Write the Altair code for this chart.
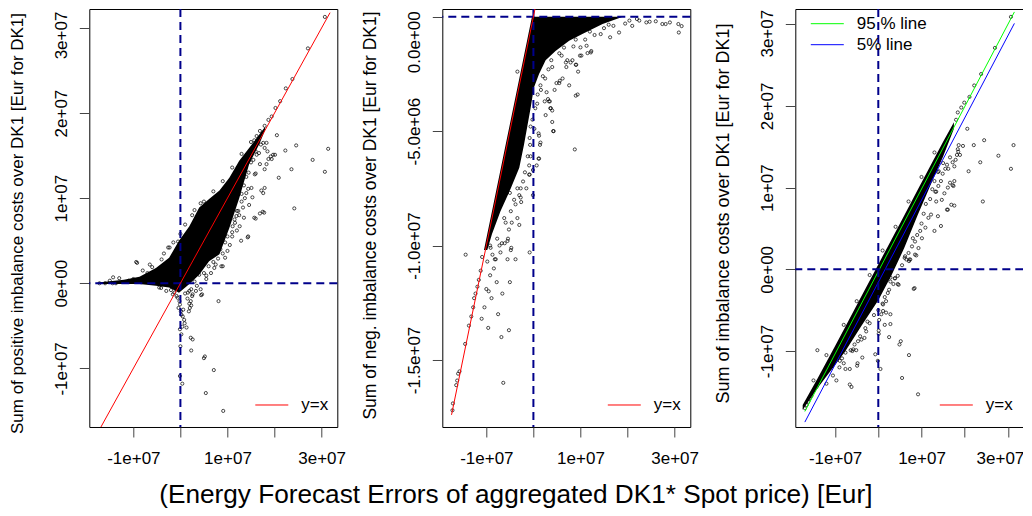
import altair as alt
import pandas as pd

FONT = "Liberation Sans"

# ---------------- axis ticks / labels ----------------
X_TICKS = [-1e7, 0, 1e7, 2e7, 3e7]
X_TICK_LABELS = ["-1e+07", "", "1e+07", "", "3e+07"]
Y13_TICKS = [-1e7, 0, 1e7, 2e7, 3e7]
Y13_TICK_LABELS = ["-1e+07", "0e+00", "1e+07", "2e+07", "3e+07"]
Y2_TICKS = [0, -5e6, -1e7, -1.5e7]
Y2_TICK_LABELS = ["0.0e+00", "-5.0e+06", "-1.0e+07", "-1.5e+07"]

X_DOMAIN_12 = [-1.936e7, 3.334e7]
X_DOMAIN_3 = [-1.921e7, 3.356e7]
Y_DOMAIN_1 = [-1.689e7, 3.223e7]
Y_DOMAIN_2 = [-1.793e7, 3.37e5]
Y_DOMAIN_3 = [-1.930e7, 3.186e7]

X_TITLE = "(Energy Forecast Errors of aggregated DK1* Spot price) [Eur]"
Y_TITLE_1 = "Sum of positive imbalance costs over DK1 [Eur for DK1]"
Y_TITLE_2 = "Sum of neg. imbalance costs over DK1 [Eur for DK1]"
Y_TITLE_3 = "Sum of imbalance costs over DK1 [Eur for DK1]"

# ---------------- reference lines ----------------
ZERO = [0]
YX_X = [-1.74e7, 3.18e7]
YX_Y = [-1.74e7, 3.18e7]
Q95_X = [-1.70e7, 3.15e7]
Q95_Y = [-1.74e7, 3.15e7]
Q05_X = [-1.70e7, 3.15e7]
Q05_Y = [-1.87e7, 3.01e7]

# ---------------- panel 1: dense core + points ----------------
P1_BAND_X = [-1.75e7, -1.2e7, -8.7e6, -5.2e6, -2.4e6, -3e5, 1.9e6, 4.0e6, 6.1e6, 8.3e6, 1.04e7, 1.25e7, 1.46e7, 1.68e7, 1.8e7]
P1_BAND_LO = [-1e5, -1e5, -1e5, -3e5, -5e5, -1.1e6, -1e5, 1.0e6, 2.6e6, 3.4e6, 6.5e6, 1.0e7, 1.40e7, 1.64e7, 1.8e7]
P1_BAND_HI = [1e5, 4e5, 7.7e5, 1.8e6, 3.0e6, 5.0e6, 6.7e6, 8.9e6, 9.9e6, 1.09e7, 1.24e7, 1.44e7, 1.59e7, 1.75e7, 1.84e7]
P1_POINTS = [
    (3.07e7, 3.13e7), (2.71e7, 2.76e7), (2.38e7, 2.40e7), (2.24e7, 2.29e7), (2.12e7, 2.14e7), (2.02e7, 2.06e7),
    (1.94e7, 1.96e7), (1.87e7, 1.92e7), (1.79e7, 1.85e7), (1.69e7, 1.79e7), (1.62e7, 1.73e7), (1.57e7, 1.68e7),
    (2.05e7, 1.74e7), (2.46e7, 1.62e7), (2.23e7, 1.56e7), (3.14e7, 1.58e7), (2.81e7, 1.45e7), (2.36e7, 1.34e7),
    (2.09e7, 1.24e7), (3.07e7, 1.31e7), (2.42e7, 8.8e6), (2.01e7, 1.51e7), (1.87e7, 1.46e7), (1.83e7, 1.40e7),
    (1.79e7, 1.34e7), (1.69e7, 1.40e7), (1.60e7, 1.29e7), (1.79e7, 1.12e7), (1.72e7, 1.09e7), (1.76e7, 1.06e7),
    (1.78e7, 8.3e6), (1.69e7, 8.2e6), (1.60e7, 7.6e6), (1.53e7, 1.01e7), (1.46e7, 9.2e6), (1.44e7, 5.5e6),
    (1.29e7, 5.0e6), (1.26e7, 6.7e6), (1.11e7, 6.7e6), (1.83e7, 1.65e7), (1.79e7, 1.59e7), (1.85e7, 1.55e7),
    (1.92e7, 1.49e7), (1.97e7, 1.51e7), (1.94e7, 1.46e7), (1.58e7, 1.28e7), (1.51e7, 1.12e7), (1.44e7, 1.11e7),
    (1.40e7, 1.06e7), (1.37e7, 1.0e7), (1.30e7, 9.6e6), (1.33e7, 8.9e6), (1.23e7, 8.5e6), (1.35e7, 7.7e6),
    (1.19e7, 7.9e6), (1.16e7, 7.1e6), (1.71e7, 1.63e7), (1.76e7, 1.65e7), (1.62e7, 1.51e7), (1.67e7, 1.53e7),
    (4.3e6, 9.4e6), (-5e5, 4.9e6), (-2.6e6, 4.2e6), (-1.72e7, 0.0), (-1.60e7, 0.0), (-1.44e7, 0.0),
    (-1.37e7, 0.0), (-1.43e7, 7e5), (-9.2e6, 2.4e6), (-2.3e6, 4.2e6), (-9.4e6, 2.5e6),
    (-1.1e7, 3e5), (-1.0e7, 5e5), (-7.0e6, 1.2e6), (-6.0e6, 1.9e6), (-4.0e6, 2.8e6),
    (-4.5e6, -5e5), (-4.1e6, -5.5e5), (-1.6e6, -1.3e6), (-1.3e6, -1.1e6), (-6e5, -1.7e6), (-2e5, -2.1e6),
    (-1e5, -2.5e6), (-4e5, -2.9e6), (1e5, -3.3e6), (5e5, -3.9e6), (9e5, -4.7e6), (-1e5, -5.4e6),
    (1.9e6, -9e5), (2.6e6, -1.3e6), (2.3e6, -7e5), (3.3e6, -9e5), (4.4e6, -1.4e6), (8.1e6, -2.1e6),
    (1.9e6, -2.4e6), (2.3e6, -2.6e6), (1.8e6, -3.3e6), (4.0e6, 1.0e6), (7.2e6, 1.8e6), (9.0e6, 2.0e6),
    (1.43e7, 5.4e6), (1.57e7, 7.7e6), (1.75e7, 8.4e6), (6e5, -3.1e6), (2e5, -3.7e6), (8e5, -4.3e6),
    (4e5, -5.1e6), (2e5, -6.0e6), (0.0, -7.4e6), (-1e5, -1.09e7), (4e5, -1.18e7), (1.6e6, -1.1e6),
    (2.5e6, -1.5e6), (2.2e6, -2.1e6), (2.0e6, -2.9e6), (1.3e6, -5.2e6), (2.2e6, -6.4e6), (2.6e6, -6.6e6),
    (2.3e6, -7.9e6), (4.3e6, -7e5), (4.6e6, -1.3e6), (5.2e6, -8.6e6), (5.0e6, -8.8e6), (7.1e6, -1.02e7),
    (5.4e6, -1.29e7), (9.1e6, -1.50e7), (8.7e6, 2.0e6), (5.5e6, 9e5), (6.5e6, 1.2e6), (1.0e7, 3.8e6),
    (1.1e7, 5.5e6), (1.2e7, 6.2e6), (9.5e6, 3.0e6),
    (3.0e6, 2e5), (3.5e6, -3e5), (5.0e6, 1.2e6), (5.5e6, 5e5), (6.0e6, 2.0e6), (7.0e6, 2.5e6),
    (7.5e6, 2.2e6), (8.0e6, 2.9e6), (8.5e6, 4.0e6), (9.0e6, 3.5e6), (9.5e6, 4.8e6), (1.0e7, 5.5e6),
    (1.05e7, 4.5e6), (1.1e7, 6.0e6), (1.15e7, 7.5e6), (1.2e7, 8.5e6), (1.25e7, 8.0e6), (1.3e7, 1.05e7),
    (1.35e7, 1.15e7), (1.4e7, 1.25e7), (1.45e7, 1.3e7), (1.5e7, 1.42e7), (1.55e7, 1.45e7), (1.6e7, 1.55e7),
    (-1.5e7, 3e5), (-1.3e7, 6e5), (-8.0e6, 1.5e6), (-6.5e6, 2.2e6), (-3.5e6, 3.5e6), (-1.5e6, 4.8e6),
    (0.0, 5.8e6), (1.0e6, 6.9e6), (2.5e6, 8.0e6), (3.0e6, 8.6e6), (5.0e6, 9.6e6), (7.0e6, 1.08e7),
    (9.0e6, 1.2e7), (1.1e7, 1.36e7), (1.3e7, 1.52e7), (1.5e7, 1.66e7),
    (-3.0e6, -9e5), (-2.0e6, -8e5), (-8e5, -1.5e6), (1.0e6, -1.2e6), (1.5e6, -1.8e6),
]

# ---------------- panel 2: dense core (keyed by y) + points ----------------
P2_BAND_Y = [0.0, -3.2e5, -7.6e5, -1.05e6, -1.5e6, -1.9e6, -2.5e6, -3.1e6, -4.0e6, -4.8e6, -5.6e6, -6.6e6, -7.5e6, -8.5e6, -9.5e6, -1.02e7]
P2_BAND_XLO = [-3e5, -6.2e5, -1.06e6, -1.35e6, -1.8e6, -2.2e6, -2.8e6, -3.4e6, -4.3e6, -5.1e6, -5.9e6, -6.9e6, -7.8e6, -8.8e6, -9.8e6, -1.05e7]
P2_BAND_XHI = [1.9e7, 1.47e7, 1.04e7, 7.6e6, 4.7e6, 2.6e6, 1.2e6, 1e5, -6e5, -1.3e6, -2.0e6, -3.0e6, -4.8e6, -7.0e6, -8.8e6, -9.8e6]
P2_POINTS = [
    (2.04e7, -1.7e5), (2.25e7, -1.7e5), (2.40e7, -2.5e5), (2.47e7, -2.2e5), (2.74e7, -3.2e5), (2.81e7, -3.2e5),
    (3.08e7, -3.2e5), (3.15e7, -4.1e5), (3.09e7, -6.9e5), (1.82e7, -6.9e5), (1.63e7, -9.0e5), (1.43e7, -7.6e5),
    (1.22e7, -1.56e6), (1.15e7, -1.59e6), (9.9e6, -1.7e6), (9.0e6, -2.1e6), (9.5e6, -2.4e6), (7.6e6, -3.0e6),
    (9.0e6, -3.45e6), (9.4e6, -3.4e6), (6.2e6, -2.7e6), (5.5e6, -2.9e6), (6.9e6, -2.0e6), (7.2e6, -1.9e6),
    (8.3e6, -1.9e6), (3.3e6, -3.7e6), (3.7e6, -4.0e6), (4.0e6, -4.1e6), (4.0e6, -4.6e6), (4.3e6, -5.0e6),
    (2.6e6, -4.3e6), (1.4e6, -5.6e6), (1.1e6, -6.2e6), (7e5, -6.5e6), (8.8e6, -5.8e6), (1.2e6, -5.2e6),
    (1.1e6, -5.1e6), (-2.7e6, -7.5e6), (-3.4e6, -2.4e6), (-8e5, -5.3e6), (-6e5, -6.1e6), (-8e5, -6.9e6),
    (-6e5, -4.8e6), (-1.44e7, -1.04e7), (-8e5, -1.03e7), (-2.7e6, -7.9e6), (-2.6e6, -8.1e6), (-1e5, -7.8e6),
    (-4.8e6, -1.02e7), (-5.5e6, -1.06e7), (-3.8e6, -1.06e7), (-7.0e6, -1.03e7), (-8.2e6, -1.06e7),
    (-8.7e6, -1.04e7), (-9.2e6, -1.13e7), (-5.0e6, -1.16e7), (-1.0e7, -1.19e7), (-6.6e6, -1.21e7),
    (-8.9e6, -1.23e7), (-7.5e6, -1.30e7), (-9.6e6, -1.36e7), (-5.2e6, -1.37e7), (-6.8e6, -1.40e7),
    (-6.4e6, -1.60e7), (-5.0e6, -7.7e6), (-3.4e6, -7.5e6), (-3.0e6, -7.8e6), (-4.1e6, -8.0e6),
    (-4.8e6, -8.5e6), (-3.4e6, -8.8e6), (-3.0e6, -9.1e6), (-4.6e6, -9.0e6), (-6.2e6, -8.8e6),
    (-5.9e6, -9.0e6), (-5.5e6, -9.8e6), (-6.1e6, -9.9e6), (-7.7e6, -9.7e6), (-6.7e6, -9.9e6),
    (-1.09e7, -1.05e7), (-1.12e7, -1.11e7), (-1.16e7, -1.15e7), (-1.19e7, -1.18e7), (-1.23e7, -1.21e7),
    (-1.26e7, -1.23e7), (-1.28e7, -1.27e7), (-1.32e7, -1.31e7), (-1.37e7, -1.35e7), (-1.45e7, -1.43e7),
    (-1.57e7, -1.55e7), (-1.60e7, -1.56e7), (-1.62e7, -1.59e7), (-1.64e7, -1.61e7), (-1.71e7, -1.69e7),
    (-1.72e7, -1.72e7), (-9.2e6, -1.0e7), (-9.8e6, -1.07e7), (-8.0e6, -1.06e7), (-5.4e6, -9.7e6),
    (-9.1e6, -1.01e7), (-4.7e6, -1.01e7), (-9e5, -6.5e6), (-9e5, -6.9e6), (-1e5, -6.7e6), (1.2e6, -6.2e6),
    (1.5e6, -5.5e6), (4.2e6, -5.0e6), (3.6e6, -4.0e6), (3.1e6, -3.6e6), (2.4e6, -3.7e6), (3.5e6, -3.7e6),
    (5.6e6, -2.8e6), (4.9e6, -2.9e6), (4.5e6, -3.2e6), (2.8e6, -3.3e6), (9.1e6, -2.1e6), (7.0e6, -2.2e6),
    (7.9e6, -2.0e6), (1.23e7, -1.5e6), (1.02e7, -1.7e6), (1.0e7, -1.34e6), (1.13e7, -1.27e6),
    (1.7e7, -4e5), (1.5e7, -5e5), (1.3e7, -8e5), (1.1e7, -1.0e6), (8.5e6, -1.3e6), (6.0e6, -1.7e6),
    (4.0e6, -2.2e6), (2.5e6, -2.7e6), (1.6e6, -3.2e6), (8e5, -3.8e6), (1.95e7, -3e5), (2.1e7, -4e5),
    (1.6e7, -3.5e5), (1.2e7, -6.5e5), (9.0e6, -1.0e6), (6.5e6, -1.35e6), (5.5e6, -1.6e6), (3.8e6, -1.9e6),
    (3.2e6, -2.3e6), (2.0e6, -2.6e6), (1.5e6, -3.0e6), (9e5, -3.4e6), (4e5, -4.0e6), (-2e5, -4.5e6),
    (2e5, -4.9e6), (-7e5, -5.6e6), (-1.2e6, -6.1e6), (-1.8e6, -6.8e6), (-2.2e6, -7.2e6), (-1.5e6, -7.5e6),
    (-3.8e6, -8.2e6), (-5.2e6, -9.3e6), (-7.2e6, -1.0e7), (-8.4e6, -1.1e7), (-7.8e6, -1.16e7),
    (-9.5e6, -1.2e7), (-1.04e7, -1.27e7), (-1.1e7, -1.32e7), (2.2e7, -1e5), (2.6e7, -2e5), (2.9e7, -2.5e5),
]

# ---------------- panel 3: dense core + points ----------------
P3_BAND_X = [-1.75e7, -1.4e7, -1.0e7, -7.6e6, -4.0e6, 0.0, 3.0e6, 6.0e6, 9.0e6, 1.2e7, 1.5e7, 1.75e7]
P3_BAND_LO = [-1.72e7, -1.45e7, -1.17e7, -1.0e7, -7.0e6, -3.8e6, -8e5, 2.6e6, 6.5e6, 1.02e7, 1.38e7, 1.72e7]
P3_BAND_HI = [-1.66e7, -1.33e7, -9.4e6, -7.0e6, -3.4e6, 6e5, 3.6e6, 6.6e6, 9.6e6, 1.26e7, 1.56e7, 1.8e7]
P3_POINTS = [
    (3.07e7, 3.09e7), (2.70e7, 2.71e7), (2.38e7, 2.39e7), (2.22e7, 2.25e7), (2.11e7, 2.11e7), (1.99e7, 2.04e7),
    (1.92e7, 1.98e7), (1.84e7, 1.92e7), (1.80e7, 1.83e7), (2.06e7, 1.72e7), (2.45e7, 1.58e7), (2.21e7, 1.52e7),
    (3.13e7, 1.52e7), (2.78e7, 1.39e7), (2.36e7, 1.31e7), (2.09e7, 1.20e7), (3.07e7, 1.23e7), (2.42e7, 8.3e6),
    (1.86e7, 1.52e7), (1.96e7, 1.51e7), (1.84e7, 1.47e7), (1.82e7, 1.40e7), (1.79e7, 1.34e7), (1.72e7, 1.31e7),
    (1.76e7, 1.26e7), (1.59e7, 1.28e7), (1.55e7, 1.23e7), (1.49e7, 1.17e7), (1.38e7, 1.19e7), (1.76e7, 1.08e7),
    (1.72e7, 1.03e7), (1.61e7, 1.0e7), (1.53e7, 9.3e6), (1.69e7, 7.9e6), (1.76e7, 7.8e6), (1.61e7, 7.3e6),
    (1.45e7, 5.3e6), (1.30e7, 4.7e6), (1.38e7, 6.5e6), (1.22e7, 6.7e6), (1.34e7, 8.3e6), (1.34e7, 9.5e6),
    (1.39e7, 1.02e7), (1.45e7, 1.08e7), (1.85e7, 1.44e7), (1.89e7, 1.40e7), (1.66e7, 1.37e7), (1.62e7, 1.23e7),
    (1.74e7, 1.02e7), (1.66e7, 1.06e7), (1.59e7, 7.3e6), (1.47e7, 8.5e6), (1.32e7, 9.5e6), (1.16e7, 6.3e6),
    (1.09e7, 5.1e6), (1.01e7, 3.8e6), (9.3e6, 2.6e6), (8.5e6, 1.8e6), (7.4e6, 1.2e6), (6.2e6, 1.6e6),
    (7.8e6, 2.8e6), (8.5e6, 3.4e6), (9.7e6, 4.7e6), (3.9e6, -1.1e6), (4.7e6, -1.9e6), (8.4e6, -2.3e6),
    (2.8e6, -1.5e6), (-1.41e7, -9.9e6), (-9.7e6, -1.36e7), (-6.6e6, -1.41e7), (-6.2e6, -1.44e7),
    (-7.6e6, -1.22e7), (-6.6e6, -1.22e7), (-4.8e6, -1.15e7), (-4.9e6, -1.18e7), (-3.7e6, -1.08e7),
    (-5.8e6, -9.8e6), (-5.1e6, -9.9e6), (-6.4e6, -9.9e6), (-7.6e6, -1.02e7), (-8.4e6, -1.09e7),
    (-8.9e6, -1.12e7), (-4.7e6, -8.8e6), (-3.9e6, -8.6e6), (-3.2e6, -8.4e6), (-2.8e6, -7.6e6),
    (-2.5e6, -6.4e6), (-7e5, -1.04e7), (-1e5, -1.12e7), (5e5, -1.22e7), (1e5, -7.9e6), (1e5, -7.5e6),
    (2e5, -6.2e6), (7e5, -5.5e6), (1.1e6, -5.1e6), (1.8e6, -5.3e6), (2.8e6, -6.7e6), (2.5e6, -8.3e6),
    (1.5e6, -6.8e6), (5.2e6, -8.8e6), (4.9e6, -9.2e6), (7.1e6, -1.05e7), (5.5e6, -1.33e7), (9.2e6, -1.53e7),
    (8.2e6, -2.4e6), (4.5e6, -1.8e6), (3.8e6, -1.1e6), (2.8e6, -1.0e6), (6.1e6, 1.4e6), (7.2e6, 1.2e6),
    (8.8e6, 1.7e6), (7.1e6, 1.0e6), (2.2e6, -2.9e6), (1.8e6, -3.9e6), (1.1e6, -4.3e6), (2.8e6, -5.5e6),
    (-1.70e7, -1.70e7), (-1.66e7, -1.66e7), (-1.62e7, -1.62e7), (-1.59e7, -1.58e7), (-1.55e7, -1.55e7),
    (-1.43e7, -1.44e7), (-1.36e7, -1.37e7), (-1.28e7, -1.31e7), (-1.20e7, -1.23e7), (-1.16e7, -1.19e7),
    (-1.09e7, -1.13e7), (-1.01e7, -1.06e7),
    (-1.2e7, -1.4e7), (-1.05e7, -1.3e7), (-9.0e6, -1.2e7), (-8.0e6, -1.15e7), (-6.0e6, -1.0e7),
    (-5.5e6, -9.2e6), (-4.2e6, -8.2e6), (-3.0e6, -7.2e6), (-2.0e6, -6.6e6), (-1.0e6, -5.6e6), (0.0, -5.0e6),
    (1.0e6, -4.2e6), (1.5e6, -3.4e6), (2.5e6, -2.5e6), (3.5e6, -1.8e6), (4.5e6, -8e5), (5.5e6, 5e5),
    (6.5e6, 1.2e6), (7.0e6, 2.0e6), (8.0e6, 3.8e6), (9.0e6, 4.2e6), (1.0e7, 5.6e6), (1.05e7, 6.8e6),
    (1.1e7, 8.0e6), (1.2e7, 8.6e6), (1.25e7, 9.8e6), (1.3e7, 1.08e7), (1.4e7, 1.2e7), (1.5e7, 1.3e7),
    (-1.5e7, -1.36e7), (-1.2e7, -1.05e7), (-8.0e6, -6.8e6), (-5.0e6, -3.9e6), (-2.0e6, -7e5),
    (1.0e6, 2.3e6), (4.0e6, 5.2e6), (7.0e6, 8.3e6), (1.0e7, 1.13e7), (1.3e7, 1.43e7),
]

# ---------------- helpers ----------------
def label_expr(values, labels):
    expr = "''"
    for v, l in reversed(list(zip(values, labels))):
        expr = f"datum.value == {v:.0f} ? '{l}' : {expr}"
    return expr


def sc(domain):
    return alt.Scale(domain=domain, nice=False, zero=False)


def x_axis(last_shift=0, **kw):
    base = dict(values=X_TICKS, labelExpr=label_expr(X_TICKS, X_TICK_LABELS), title=None,
                labelBaseline="alphabetic", labelAlign="center", labelPadding=27,
                labelOffset=alt.condition(f"datum.value == {X_TICKS[-1]:.0f}", alt.value(last_shift), alt.value(0)))
    base.update(kw)
    return alt.Axis(**base)


def y_axis(values, labels, title, top_value, top_shift, title_size=18, title_y=204):
    return alt.Axis(values=values, labelExpr=label_expr(values, labels), title=title,
                    labelAngle=270, labelAlign="center", labelBaseline="alphabetic", labelPadding=13,
                    labelOffset=alt.condition(f"datum.value == {top_value:.0f}", alt.value(top_shift), alt.value(0)),
                    titleAngle=270, titleX=-66.5, titleY=title_y, titleAlign="center",
                    titleBaseline="alphabetic", titleLimit=1000, titleFontSize=title_size)


def legend(lx, ly):
    return alt.Legend(orient="none", legendX=lx, legendY=ly, title=None,
                      symbolType="M-3,0L3,0", symbolSize=121, symbolStrokeWidth=1,
                      labelFontSize=17, labelFont=FONT, labelColor="black", labelOffset=21,
                      padding=0, rowPadding=3, labelLimit=500)


def pts_df(points):
    return pd.DataFrame(points, columns=["x", "y"])


class Panel:
    def __init__(self, xd, yd, xax, yax):
        self.xd, self.yd, self.xax, self.yax = xd, yd, xax, yax

    def X(self, field):
        return alt.X(f"{field}:Q", scale=sc(self.xd), axis=self.xax)

    def Y(self, field):
        return alt.Y(f"{field}:Q", scale=sc(self.yd), axis=self.yax)

    def dashed(self):
        h = alt.Chart(pd.DataFrame({"y": ZERO})).mark_rule(
            color="#00008B", strokeWidth=2, strokeDash=[8, 5]).encode(y=self.Y("y"))
        v = alt.Chart(pd.DataFrame({"x": ZERO})).mark_rule(
            color="#00008B", strokeWidth=2, strokeDash=[8, 5]).encode(x=self.X("x"))
        return [h, v]

    def points(self, points):
        return alt.Chart(pts_df(points)).mark_point(
            shape="circle", filled=False, size=10, strokeWidth=0.7, color="black", opacity=1, clip=True
        ).encode(x=self.X("x"), y=self.Y("y"))


yx_df = pd.DataFrame({"x": YX_X, "y": YX_Y, "k": ["y=x", "y=x"]})

# ---------------- panel 1 ----------------
A1 = Panel(X_DOMAIN_12, Y_DOMAIN_1, x_axis(),
           y_axis(Y13_TICKS, Y13_TICK_LABELS, Y_TITLE_1, 3e7, 7, title_size=17, title_y=214))
band1 = alt.Chart(pd.DataFrame({"x": P1_BAND_X, "lo": P1_BAND_LO, "hi": P1_BAND_HI})).mark_area(
    color="black", opacity=1, clip=True).encode(x=A1.X("x"), y=A1.Y("lo"), y2="hi:Q")
red1 = alt.Chart(yx_df).mark_line(strokeWidth=1, clip=True).encode(
    x=A1.X("x"), y=A1.Y("y"),
    color=alt.Color("k:N", scale=alt.Scale(domain=["y=x"], range=["#FF0000"]), legend=legend(174, 387.5)))
helper = alt.Chart(pd.DataFrame({"h": [0]})).mark_rule(opacity=0).encode(
    x=alt.value(-95), x2=alt.value(-94), y=alt.value(-40))
p1 = alt.layer(band1, A1.points(P1_POINTS), *A1.dashed(), red1, helper).properties(width=248, height=418)

# ---------------- panel 2 ----------------
A2 = Panel(X_DOMAIN_12, Y_DOMAIN_2,
           x_axis(title=X_TITLE, titleFontSize=26.2, titleX=73, titleY=76, titleAlign="center",
                  titleBaseline="alphabetic", titleLimit=2000),
           y_axis(Y2_TICKS, Y2_TICK_LABELS, Y_TITLE_2, 0, 25, title_size=17.5, title_y=206))
band2 = alt.Chart(pd.DataFrame({"y": P2_BAND_Y, "xlo": P2_BAND_XLO, "xhi": P2_BAND_XHI})).mark_area(
    color="black", opacity=1, clip=True, orient="horizontal").encode(
    y=A2.Y("y"), x=A2.X("xlo"), x2="xhi:Q")
red2 = alt.Chart(yx_df).mark_line(strokeWidth=1, clip=True).encode(
    x=A2.X("x"), y=A2.Y("y"),
    color=alt.Color("k:N", scale=alt.Scale(domain=["y=x"], range=["#FF0000"]), legend=legend(173.5, 387.5)))
p2 = alt.layer(band2, A2.points(P2_POINTS), *A2.dashed(), red2).properties(width=248, height=418)

# ---------------- panel 3 ----------------
A3 = Panel(X_DOMAIN_3, Y_DOMAIN_3, x_axis(last_shift=-8),
           y_axis(Y13_TICKS, Y13_TICK_LABELS, Y_TITLE_3, 3e7, 9))
band3 = alt.Chart(pd.DataFrame({"x": P3_BAND_X, "lo": P3_BAND_LO, "hi": P3_BAND_HI})).mark_area(
    color="black", opacity=1, clip=True).encode(x=A3.X("x"), y=A3.Y("lo"), y2="hi:Q")
q_df = pd.DataFrame({
    "x": Q95_X + Q05_X,
    "y": Q95_Y + Q05_Y,
    "k": ["95 % line"] * len(Q95_X) + ["5% line"] * len(Q05_X),
})
qlines = alt.Chart(q_df).mark_line(strokeWidth=1, clip=True).encode(
    x=A3.X("x"), y=A3.Y("y"),
    color=alt.Color("k:N", scale=alt.Scale(domain=["95 % line", "5% line"], range=["#00FF00", "#0000FF"]),
                    legend=legend(23.5, 6.2)))
red3 = alt.Chart(yx_df).transform_filter("datum.x > 1e12").mark_line(strokeWidth=1, clip=True).encode(
    x=A3.X("x"), y=A3.Y("y"),
    stroke=alt.Stroke("k:N", scale=alt.Scale(domain=["y=x"], range=["#FF0000"]), legend=legend(152.5, 387.5)))
p3 = alt.layer(band3, A3.points(P3_POINTS), qlines, *A3.dashed(), red3).properties(width=228, height=418)

chart = alt.hconcat(p1, p2, p3, spacing=105, bounds="flush", background="white",
                    padding={"left": -14.7, "top": -40, "right": -2, "bottom": 0}
                    ).resolve_scale(color="independent", stroke="independent"
                    ).resolve_legend(color="independent", stroke="independent"
                    ).configure_view(stroke="black", strokeWidth=1
                    ).configure_axis(labelFont=FONT, titleFont=FONT, labelFontSize=17, titleFontSize=18,
                                     labelColor="black", titleColor="black", tickColor="#444", tickSize=10,
                                     tickWidth=1, domain=False, grid=False, titleFontWeight="normal",
                                     labelFlush=False, labelOverlap=False)

chart.save("out.html", embed_options={"renderer": "svg", "actions": False})
